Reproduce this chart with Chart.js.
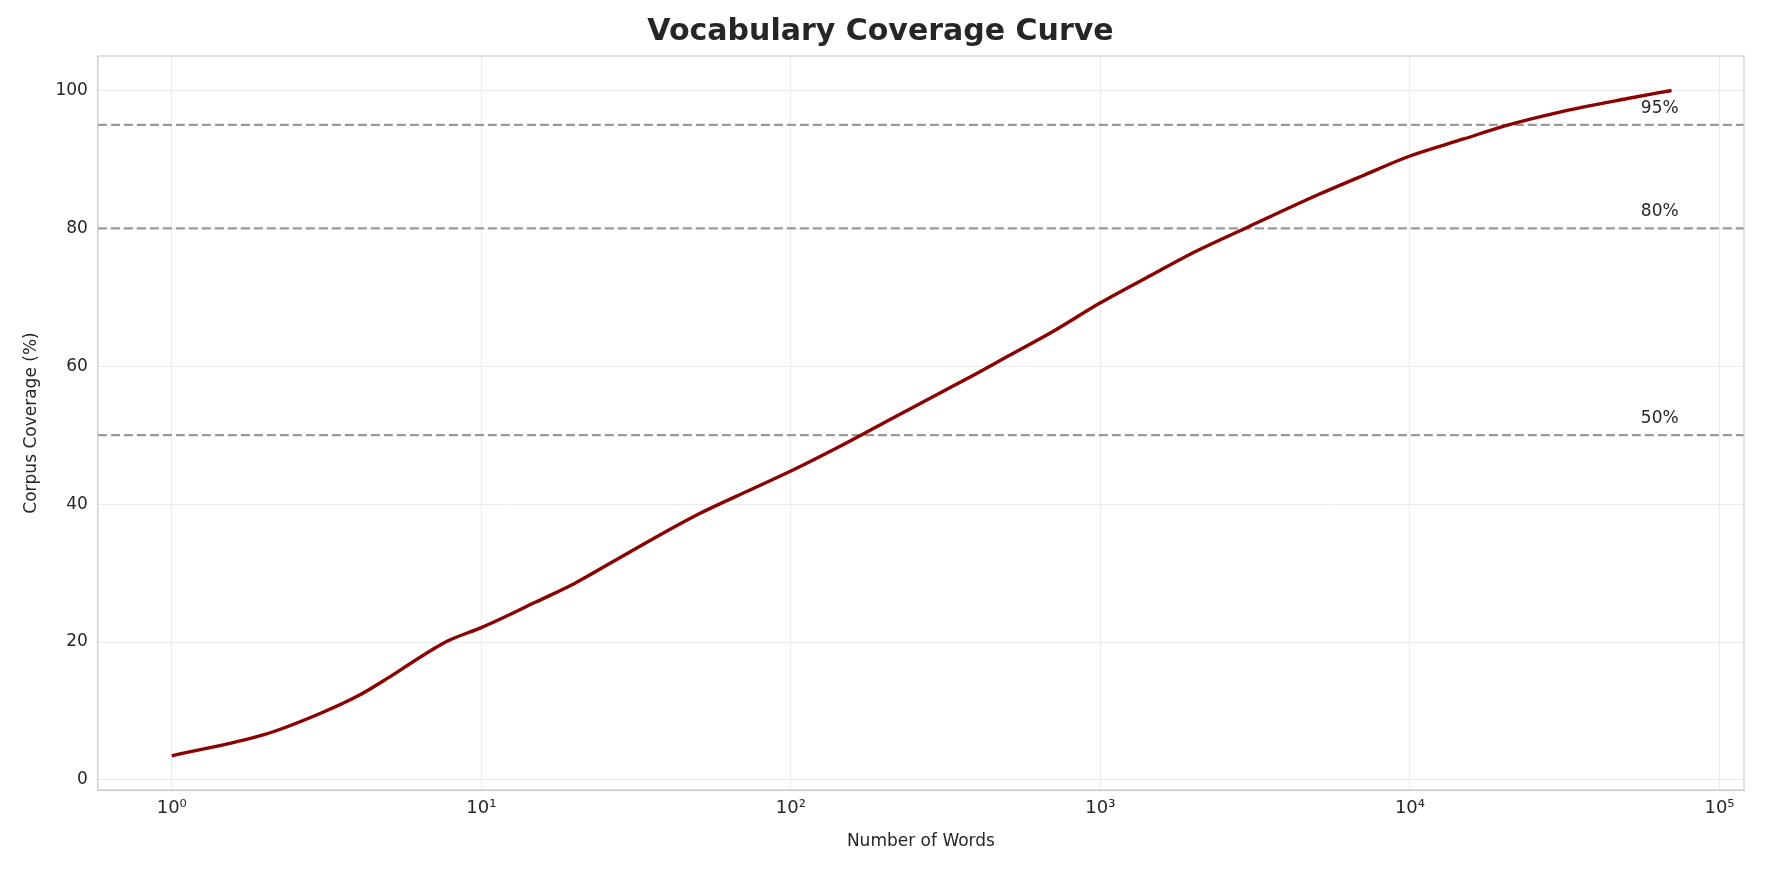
<!DOCTYPE html>
<html>
<head>
<script src="https://cdn.jsdelivr.net/npm/chart.js@4"></script>
<style>body{margin:0;background:#fff}#wrap{width:1784px;height:883px}</style>
</head>
<body>
<div id="wrap"><canvas id="c"></canvas></div>
<script>
const words = [1,2,3,4,5,6,7,8,10,15,20,30,50,75,100,150,200,300,400,500,700,1000,1500,2000,3000,5000,7000,10000,15000,20000,30000,50000,70000];
const coverage = [3.5,6.6,9.6,12.2,14.8,17.1,19.0,20.4,22.1,25.8,28.5,33.0,38.5,42.2,44.8,48.8,51.8,56.0,59.0,61.4,65.0,69.2,73.5,76.5,80.2,84.8,87.6,90.5,93.0,94.8,96.8,98.8,100];
const thresholds = [50, 80, 95];
const thresholdLabels = ["50%", "80%", "95%"];
const xMin = 0.577, xMax = 120000;
const sup = {"0":"⁰","1":"¹","2":"²","3":"³","4":"⁴","5":"⁵"};

const datasets = [{
  data: words.map((w, i) => ({x: w, y: coverage[i]})),
  borderColor: "#8b0000", borderWidth: 3.4, pointRadius: 0, tension: 0.3, cubicInterpolationMode: "monotone"
}];
thresholds.forEach(t => datasets.push({
  data: [{x: xMin, y: t}, {x: xMax, y: t}],
  borderColor: "#999", borderWidth: 2.2, borderDash: [9, 4], pointRadius: 0
}));

const labelPlugin = {
  id: "thrLabels",
  afterDatasetsDraw(chart) {
    const {ctx, scales, chartArea: a} = chart;
    ctx.save();
    ctx.strokeStyle = "#ccc";
    ctx.lineWidth = 1.2;
    ctx.strokeRect(a.left, a.top, a.right - a.left, a.bottom - a.top);
    ctx.font = "17px 'DejaVu Sans'";
    ctx.fillStyle = "#262626";
    ctx.textBaseline = "bottom";
    thresholds.forEach((t, i) => {
      ctx.fillText(thresholdLabels[i], scales.x.getPixelForValue(55700), scales.y.getPixelForValue(t + 1.2));
    });
    ctx.restore();
  }
};

new Chart(document.getElementById("c"), {
  type: "line",
  data: {datasets},
  plugins: [labelPlugin],
  options: {
    responsive: true, maintainAspectRatio: false, animation: false,
    layout: {padding: {left: 17, right: 40, top: 4, bottom: 27}},
    plugins: {
      legend: {display: false}, tooltip: {enabled: false},
      title: {display: true, text: "Vocabulary Coverage Curve", color: "#262626",
        font: {size: 30, weight: "bold", family: "DejaVu Sans"}, padding: {top: 10, bottom: 6}}
    },
    scales: {
      x: {
        type: "logarithmic", min: xMin, max: xMax,
        afterBuildTicks: ax => { ax.ticks = [1,10,100,1000,10000,100000].map(v => ({value: v})); },
        ticks: {color: "#262626", font: {size: 18, family: "DejaVu Sans"}, autoSkip: false, maxRotation: 0, padding: 8,
          callback: v => "10" + sup[String(Math.round(Math.log10(v)))]},
        grid: {color: "#ebebeb", drawTicks: false},
        border: {color: "#ccc"},
        title: {display: true, text: "Number of Words", color: "#262626", font: {size: 17, family: "DejaVu Sans"}}
      },
      y: {
        min: -1.46, max: 105,
        afterBuildTicks: ax => { ax.ticks = [0,20,40,60,80,100].map(v => ({value: v})); },
        ticks: {color: "#262626", font: {size: 17, family: "DejaVu Sans"}, padding: 10},
        grid: {color: "#ebebeb", drawTicks: false},
        border: {color: "#ccc"},
        title: {display: true, text: "Corpus Coverage (%)", color: "#262626", font: {size: 17, family: "DejaVu Sans"}}
      }
    }
  }
});
</script>
</body>
</html>
